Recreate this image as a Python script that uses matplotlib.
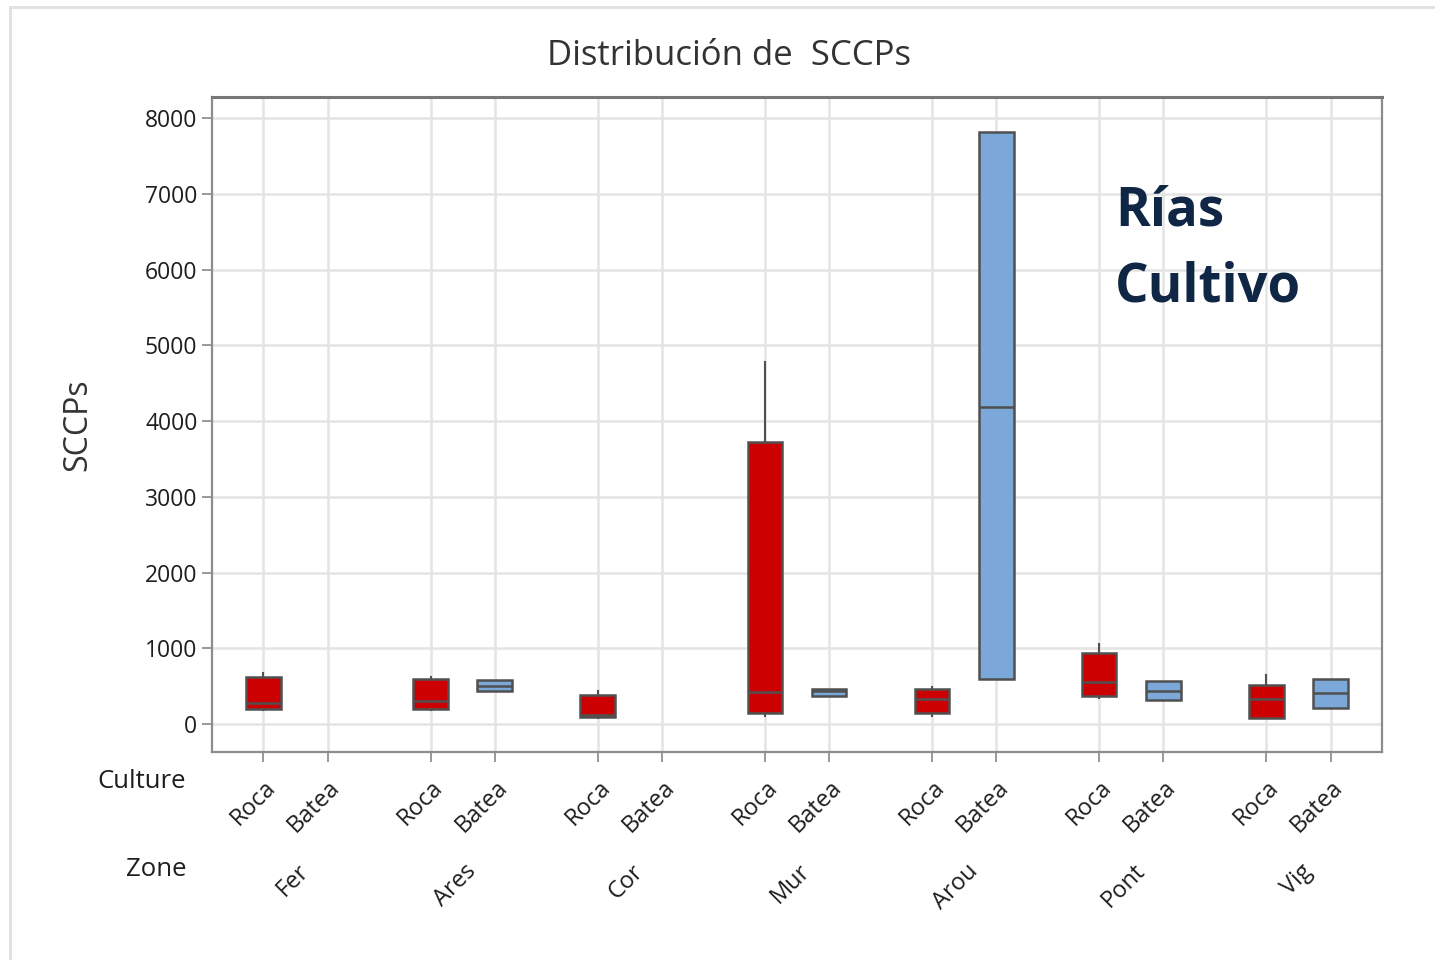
import matplotlib
matplotlib.use("Agg")
import matplotlib.pyplot as plt
from matplotlib.transforms import blended_transform_factory, offset_copy
import numpy as np

zones = ["Fer", "Ares", "Cor", "Mur", "Arou", "Pont", "Vig"]
cultures = ["Roca", "Batea"]

# Box statistics per zone for Roca and Batea (None = no data)
roca_whislo = [190, 190, 85, 106, 106, 343, 79]
roca_q1     = [198, 198, 92, 145, 145, 370, 79]
roca_med    = [277, 304, 119, 422, 330, 554, 330]
roca_q3     = [620, 594, 383, 3723, 462, 937, 515]
roca_whishi = [673, 620, 436, 4779, 488, 1056, 647]

batea_whislo = [None, 436, None, 370, 594, 317, 211]
batea_q1     = [None, 436, None, 370, 594, 317, 211]
batea_med    = [None, 502, None, 435, 4185, 436, 409]
batea_q3     = [None, 581, None, 460, 7815, 568, 594]
batea_whishi = [None, 581, None, 460, 7815, 568, 594]

yticks = [0, 1000, 2000, 3000, 4000, 5000, 6000, 7000, 8000]

RED = "#cc0000"
BLUE = "#7ba7d9"
EDGE = "#505050"
GRID = "#e4e4e4"
TXT = "#1e1e1e"

plt.rcParams['font.family'] = ['Open Sans', 'DejaVu Sans']

fig = plt.figure(figsize=(14.35, 9.6), dpi=100)
ax = fig.add_axes([212/1435, 1-752/960, 1170/1435, 655/960])

group_step = 2.6
positions = []
stats = []
colors = []
tick_labels = []
for g, z in enumerate(zones):
    for c, (name, lo, q1, med, q3, hi, col) in enumerate([
        ("Roca", roca_whislo[g], roca_q1[g], roca_med[g], roca_q3[g], roca_whishi[g], RED),
        ("Batea", batea_whislo[g], batea_q1[g], batea_med[g], batea_q3[g], batea_whishi[g], BLUE)]):
        pos = g * group_step + c
        positions.append(pos)
        tick_labels.append(name)
        if med is not None:
            stats.append(dict(pos=pos, whislo=lo, q1=q1, med=med, q3=q3, whishi=hi, fliers=[]))
            colors.append(col)

for s, col in zip(stats, colors):
    p = s.pop("pos")
    ax.bxp([s], positions=[p], widths=0.54, patch_artist=True, showcaps=False,
           boxprops=dict(facecolor=col, edgecolor=EDGE, linewidth=1.8),
           medianprops=dict(color=EDGE, linewidth=1.8),
           whiskerprops=dict(color=EDGE, linewidth=1.5), zorder=3)

ax.set_xlim(-0.8, (len(zones) - 1) * group_step + 1 + 0.8)
ax.set_ylim(-370, 8280)
ax.set_yticks(yticks)
ax.set_yticklabels([str(v) for v in yticks], fontsize=16.5, color=TXT, fontweight='medium')
ax.set_xticks(positions)
ax.set_xticklabels([])
ax.grid(True, color=GRID, linewidth=1.8, zorder=0)
ax.set_axisbelow(True)
ax.tick_params(axis='both', color="#888888", length=7, width=1.2)
for side in ["left", "right", "bottom"]:
    ax.spines[side].set_color("#8c8c8c")
    ax.spines[side].set_linewidth(1.6)
ax.spines["top"].set_color("#777777")
ax.spines["top"].set_linewidth(2.2)

# Culture and zone labels below axis
trans = blended_transform_factory(ax.transData, fig.transFigure)
for pos, lab in zip(positions, tick_labels):
    t = offset_copy(trans, fig=fig, x=9, y=0, units='dots')
    ax.text(pos, 1 - 784/960, lab, transform=t, rotation=45, rotation_mode='anchor',
            ha='right', va='center', fontsize=17, color=TXT, fontweight='medium', clip_on=False)
for g, z in enumerate(zones):
    center = g * group_step + 0.5
    t = offset_copy(trans, fig=fig, x=10, y=0, units='dots')
    ax.text(center, 1 - 868/960, z, transform=t, rotation=45, rotation_mode='anchor',
            ha='right', va='center', fontsize=17, color=TXT, fontweight='medium', clip_on=False)

fig.text(186/1435, 1 - 782/960, "Culture", ha='right', va='center', fontsize=18.5,
         color=TXT, fontweight='medium')
fig.text(186/1435, 1 - 870/960, "Zone", ha='right', va='center', fontsize=18.5,
         color=TXT, fontweight='medium')

fig.text(729/1435, 1 - 56/960, "Distribución de  SCCPs", ha='center', va='center',
         fontsize=25, color="#333333", fontweight='medium')
fig.text(78/1435, 1 - 425/960, "SCCPs", ha='center', va='center', rotation=90,
         fontsize=23, color="#333333", fontweight='medium')

fig.text(1115/1435, 1 - 212/960, "Rías", ha='left', va='center', fontsize=38,
         fontweight='bold', color="#0f2744")
fig.text(1115/1435, 1 - 288/960, "Cultivo", ha='left', va='center', fontsize=38,
         fontweight='bold', color="#0f2744")

# faint frame of the screenshot
fig.add_artist(plt.Line2D([10/1435, 10/1435], [0, 1 - 7/960], transform=fig.transFigure,
                          color="#e0e0e0", linewidth=2))
fig.add_artist(plt.Line2D([10/1435, 1], [1 - 7/960, 1 - 7/960], transform=fig.transFigure,
                          color="#e0e0e0", linewidth=2))

fig.savefig("out.png", dpi=100)
